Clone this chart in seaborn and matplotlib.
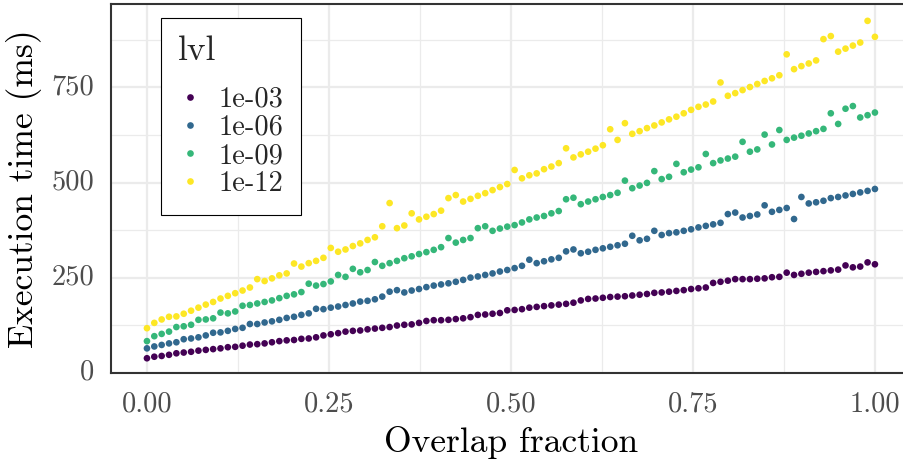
import numpy as np
import pandas as pd
import matplotlib
matplotlib.use("Agg")
import matplotlib.pyplot as plt
from matplotlib.lines import Line2D
from matplotlib.ticker import MultipleLocator
import seaborn as sns

# Overlap fraction grid (100 evenly spaced runs from 0 to 1)
overlap = np.linspace(0.0, 1.0, 100)

levels = ["1e-03", "1e-06", "1e-09", "1e-12"]
colors = ["#440154", "#31688E", "#35B779", "#FDE725"]

# Execution time (ms) per tolerance level
time_1e03 = [
    38, 42, 44, 47, 51, 53, 55, 58, 60, 62, 64, 67, 68, 71, 74, 75, 77, 80, 83, 85,
    86, 89, 90, 93, 98, 101, 104, 108, 110, 111, 114, 116, 118, 120, 124, 126, 127, 131, 136, 138,
    138, 139, 141, 143, 146, 152, 153, 155, 157, 164, 165, 167, 171, 173, 175, 177, 179, 181, 184, 190,
    194, 195, 197, 199, 200, 201, 203, 205, 207, 210, 211, 213, 215, 217, 220, 222, 224, 236, 239, 242,
    246, 246, 246, 247, 248, 251, 252, 263, 257, 260, 263, 265, 267, 269, 271, 282, 277, 279, 290, 285,
]
time_1e06 = [
    64, 69, 73, 77, 80, 88, 90, 93, 98, 105, 106, 110, 115, 118, 128, 128, 132, 135, 139, 144,
    147, 152, 156, 168, 167, 171, 174, 178, 182, 187, 189, 193, 200, 213, 217, 211, 216, 220, 225, 229,
    232, 235, 239, 244, 250, 253, 257, 261, 266, 270, 275, 281, 297, 288, 293, 298, 302, 319, 324, 314,
    318, 323, 327, 331, 335, 339, 360, 348, 352, 373, 362, 367, 369, 373, 377, 382, 386, 390, 394, 417,
    421, 408, 412, 416, 440, 423, 428, 433, 404, 462, 445, 448, 452, 459, 462, 466, 470, 474, 478, 483,
]
time_1e09 = [
    83, 96, 102, 108, 120, 122, 126, 139, 140, 143, 158, 156, 161, 176, 178, 182, 186, 190, 196, 202,
    206, 212, 234, 229, 233, 240, 257, 252, 273, 264, 270, 291, 281, 288, 294, 301, 306, 312, 317, 323,
    330, 354, 342, 349, 354, 380, 385, 373, 379, 384, 388, 395, 403, 408, 412, 419, 425, 456, 460, 443,
    450, 456, 462, 467, 473, 505, 485, 492, 499, 530, 509, 515, 549, 527, 534, 540, 575, 551, 558, 563,
    568, 607, 581, 587, 626, 600, 638, 612, 618, 623, 629, 635, 641, 682, 654, 694, 701, 671, 677, 684,
]
time_1e12 = [
    117, 131, 140, 147, 148, 155, 163, 171, 179, 186, 195, 202, 209, 216, 224, 246, 241, 248, 256, 261,
    287, 279, 288, 294, 302, 328, 318, 324, 333, 340, 349, 356, 385, 446, 380, 387, 419, 403, 410, 417,
    426, 459, 467, 450, 457, 465, 472, 480, 488, 496, 533, 511, 519, 524, 535, 542, 551, 590, 566, 574,
    581, 589, 598, 640, 612, 656, 628, 635, 643, 650, 658, 666, 673, 682, 691, 699, 705, 713, 763, 728,
    735, 743, 751, 759, 767, 774, 782, 837, 798, 806, 813, 821, 877, 885, 844, 852, 860, 868, 925, 883,
]

x_ticks = [0.0, 0.25, 0.5, 0.75, 1.0]
x_tick_labels = ["0.00", "0.25", "0.50", "0.75", "1.00"]
y_ticks = [0, 250, 500, 750]
y_tick_labels = ["0", "250", "500", "750"]

series = {"1e-03": time_1e03, "1e-06": time_1e06, "1e-09": time_1e09, "1e-12": time_1e12}
df = pd.concat(
    [pd.DataFrame({"overlap": overlap, "time": vals, "lvl": lvl}) for lvl, vals in series.items()],
    ignore_index=True,
)

sns.set_style("white")
plt.rcParams["font.family"] = ["cmr10", "DejaVu Sans"]
plt.rcParams["mathtext.fontset"] = "cm"
plt.rcParams["axes.formatter.use_mathtext"] = True

BORDER = "#333333"
GRID = "#EBEBEB"
TICK_TXT = "#4D4D4D"

fig = plt.figure(figsize=(9.04, 4.59), dpi=100)
ax = fig.add_axes([0.1223, 0.1867, 0.8858, 0.8039])

sns.scatterplot(
    data=df, x="overlap", y="time", hue="lvl", hue_order=levels,
    palette=dict(zip(levels, colors)), s=23, linewidth=0, legend=False,
    ax=ax, zorder=3,
)

ax.set_xlim(-0.05, 1.05)
ax.set_ylim(-1.6, 968.5)

ax.set_xticks(x_ticks)
ax.set_xticklabels(x_tick_labels)
ax.set_yticks(y_ticks)
ax.set_yticklabels(y_tick_labels)
ax.xaxis.set_minor_locator(MultipleLocator(0.125))
ax.yaxis.set_minor_locator(MultipleLocator(125))

ax.set_axisbelow(True)
ax.grid(which="major", color=GRID, linewidth=1.6)
ax.grid(which="minor", color=GRID, linewidth=0.9)

ax.tick_params(which="major", length=6.5, width=1.4, color=BORDER,
               labelsize=20.5, labelcolor=TICK_TXT)
ax.tick_params(axis="x", which="major", pad=6.5)
ax.tick_params(axis="y", which="major", pad=5)
ax.tick_params(which="minor", length=0)
for lbl in ax.get_yticklabels():
    lbl.set_verticalalignment("center")

for sp in ax.spines.values():
    sp.set_color(BORDER)
    sp.set_linewidth(1.5)

ax.set_xlabel("Overlap fraction", fontsize=25.6, color="black", labelpad=6)
ax.set_ylabel("Execution time (ms)", fontsize=25.6, color="black", labelpad=7)

handles = [
    Line2D([], [], marker="o", linestyle="", markersize=4.8,
           markerfacecolor=c, markeredgewidth=0)
    for c in colors
]
leg = ax.legend(
    handles, levels, title="lvl", loc="upper left",
    bbox_to_anchor=(0.0629, 0.9629), borderaxespad=0,
    fontsize=20.5, title_fontsize=25.6, frameon=True, fancybox=False,
    framealpha=1, edgecolor="black", borderpad=0.6, handlelength=0.84,
    handletextpad=0.6, labelspacing=0.07, alignment="left",
)
leg.get_frame().set_linewidth(0.8)
leg._legend_box.sep = 14

fig.savefig("out.png", dpi=100)
